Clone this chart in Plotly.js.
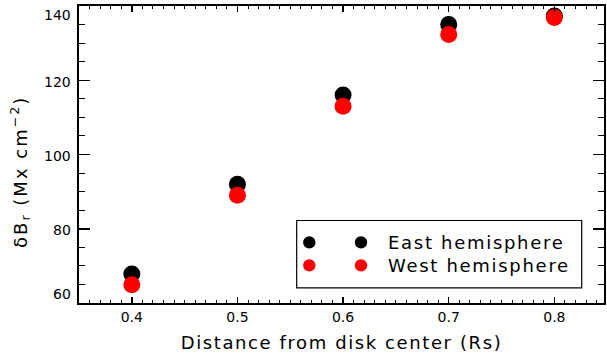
<!DOCTYPE html>
<html>
<head>
<meta charset="utf-8">
<script src="https://cdn.plot.ly/plotly-3.0.1.min.js"></script>
<style>
html,body{margin:0;padding:0;background:#fff;}
#chart{width:607px;height:358px;}
#chart .xtitle{letter-spacing:1.6px;}
</style>
</head>
<body>
<div id="chart"></div>
<script>
// Data
const distance = [0.4, 0.5, 0.6, 0.7, 0.8];
const eastValues = [67.8, 92.0, 116.0, 135.0, 137.3];
const westValues = [64.9, 89.0, 113.0, 132.3, 136.9];
const seriesNames = ['East hemisphere', 'West hemisphere'];
const seriesColors = ['#000000', '#ff0000'];
const xTickVals = [0.4, 0.5, 0.6, 0.7, 0.8];
const yTickVals = [60, 80, 100, 120, 140];
const yTitle = 'δB<sub>r</sub> (Mx cm<sup>−2</sup>)';

const W = 607, H = 358;
const L = 79, R = 604, T = 5.5, B = 303.5;
const px = x => (x - L) / (R - L);
const py = y => (B - y) / (B - T);

const font = {family: 'DejaVu Sans, sans-serif', color: '#000'};

const traces = [
  {x: distance, y: eastValues, name: seriesNames[0], mode: 'markers', type: 'scatter',
   marker: {color: seriesColors[0], size: 17}, showlegend: false, hoverinfo: 'skip'},
  {x: distance, y: westValues, name: seriesNames[1], mode: 'markers', type: 'scatter',
   marker: {color: seriesColors[1], size: 17}, showlegend: false, hoverinfo: 'skip'}
];

// Legend drawn manually (two symbols per entry, as in the reference)
const shapes = [{type: 'rect', xref: 'paper', yref: 'paper',
  x0: px(296.7), x1: px(581.7), y0: py(288.3), y1: py(220.7),
  line: {color: '#000', width: 1.2}, fillcolor: 'rgba(0,0,0,0)'}];
const annotations = [];
const legendRows = [242.7, 265.7];
const legendDotsX = [309.3, 361];
const r = 6.2;
seriesNames.forEach((nm, i) => {
  legendDotsX.forEach(cx => {
    shapes.push({type: 'circle', xref: 'paper', yref: 'paper',
      x0: px(cx - r), x1: px(cx + r), y0: py(legendRows[i] + r), y1: py(legendRows[i] - r),
      fillcolor: seriesColors[i], line: {width: 0}});
  });
  annotations.push({xref: 'paper', yref: 'paper', x: px(386), y: py(legendRows[i]),
    xanchor: 'left', yanchor: 'middle', text: nm, showarrow: false,
    font: Object.assign({size: 18}, font)});
});

// Y tick labels (end labels nudged inward as in the reference)
yTickVals.forEach((v, i) => {
  let shift = -1.5;
  if (i === 0) shift = 9.5;
  if (i === yTickVals.length - 1) shift = -8.5;
  annotations.push({xref: 'paper', yref: 'y', x: 0, y: v, xanchor: 'right', yanchor: 'middle',
    xshift: -6, yshift: shift, text: String(v), showarrow: false,
    font: Object.assign({size: 14}, font)});
});

// Y axis title
annotations.push({xref: 'paper', yref: 'paper', x: px(20), y: py(172), xanchor: 'center', yanchor: 'middle',
  textangle: -90, text: yTitle, showarrow: false, font: Object.assign({size: 18}, font)});

const layout = {
  width: W, height: H,
  margin: {l: L, r: W - R, t: T, b: H - B, pad: 0},
  paper_bgcolor: '#fff', plot_bgcolor: '#fff',
  font: Object.assign({size: 14}, font),
  xaxis: {
    range: [0.35, 0.847], tickvals: xTickVals, ticktext: xTickVals.map(v => v.toFixed(1)),
    ticks: 'inside', ticklen: 6, tickwidth: 1.5, tickcolor: '#000',
    minor: {dtick: 0.01, ticks: 'inside', ticklen: 3, tickwidth: 1, tickcolor: '#000'},
    showline: true, linecolor: '#000', linewidth: 2, mirror: 'ticks',
    showgrid: false, zeroline: false,
    tickfont: Object.assign({size: 14}, font),
    title: {text: 'Distance from disk center (Rs)', font: Object.assign({size: 18}, font), standoff: 10}
  },
  yaxis: {
    range: [60, 140], tickvals: yTickVals, showticklabels: false,
    ticks: 'inside', ticklen: 11, tickwidth: 1.5, tickcolor: '#000',
    minor: {dtick: 5, ticks: 'inside', ticklen: 6, tickwidth: 1, tickcolor: '#000'},
    showline: true, linecolor: '#000', linewidth: 2, mirror: 'ticks',
    showgrid: false, zeroline: false
  },
  shapes: shapes,
  annotations: annotations,
  showlegend: false
};

Plotly.newPlot('chart', traces, layout, {displayModeBar: false, staticPlot: true}).then(gd => {
  gd.querySelectorAll('.annotation-text').forEach(t => {
    if (seriesNames.indexOf(t.textContent) >= 0) {
      const before = t.getBoundingClientRect().left;
      t.style.letterSpacing = '1.7px';
      const after = t.getBoundingClientRect().left;
      const x0 = parseFloat(t.getAttribute('x') || '0');
      t.setAttribute('x', x0 + (before - after));
    } else if (t.textContent.indexOf('Mx') >= 0) {
      t.style.letterSpacing = '2px';
    }
  });
  const xt = gd.querySelector('.xtitle');
  if (xt) xt.setAttribute('transform', 'translate(0,3)');
});
</script>
</body>
</html>
